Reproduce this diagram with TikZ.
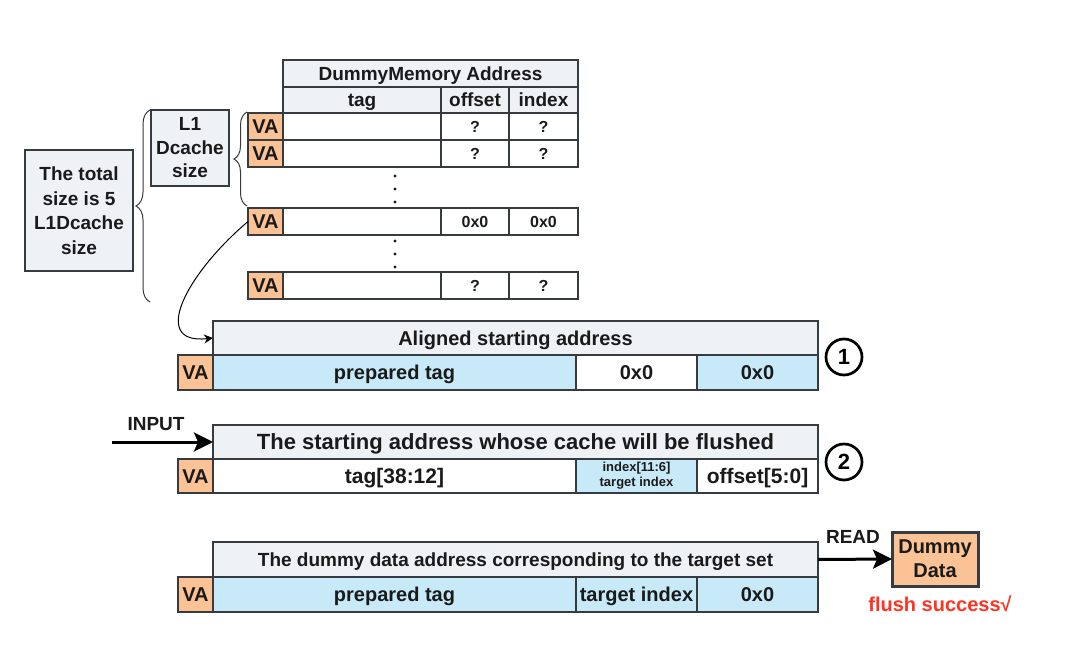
\documentclass[tikz,border=0pt]{standalone}
\usepackage{fontspec}
\setmainfont{Liberation Sans}
\usetikzlibrary{arrows.meta,decorations.pathreplacing}
\definecolor{linec}{HTML}{353B3F}
\definecolor{hdrfill}{HTML}{EEF2F4}
\definecolor{bluefill}{HTML}{C8EAF8}
\definecolor{vafill}{HTML}{FBC395}
\definecolor{redtxt}{HTML}{FF3322}
\definecolor{txt}{HTML}{1A1A1A}
\newcommand\fsz[2]{\fontsize{#1}{#2}\selectfont\bfseries}
\newcommand\cellbox[7]{\node[#6, minimum width={(#4-#2)*1pt}, minimum height={(#5-#3)*1pt}] (#1) at (#2,#3) {#7};}
\begin{document}
\begin{tikzpicture}[x=1pt,y=-1pt,
  cellb/.style={draw=linec, line width=1.3pt, inner sep=0pt, outer sep=0pt, anchor=north west, align=center, text=txt, font=\fsz{19}{23}},
  sl/.style={text height=#1, text depth=0pt},
  hdrcell/.style={cellb, fill=hdrfill},
  whitecell/.style={cellb, fill=white},
  bluecell/.style={cellb, fill=bluefill},
  vacell/.style={cellb, fill=vafill, font=\fsz{20}{22}},
  vas/.style={vacell, sl=14.3pt},
  brc/.style={draw=linec, line width=1pt, decorate},
  thinarrow/.style={draw=black, line width=1pt, -{Stealth[length=9pt,width=9pt]}},
  thickarrow/.style={draw=black, line width=3pt, -{Stealth[length=19pt,width=19pt,inset=4pt]}},
  numcirc/.style={circle, draw=black, line width=2.7pt, minimum size=36pt, inner sep=0pt, font=\fsz{22}{24}},
  lbl/.style={font=\fsz{19}{22}, text=txt}
]
\useasboundingbox (0,0) rectangle (1066,666);
\fill[white] (0,0) rectangle (1066,666);

% ---- top table ----
\cellbox{dmhdr}{283}{60}{578}{87}{hdrcell, sl=13.6pt}{DummyMemory Address}
\cellbox{ctag}{283}{87}{441}{113}{hdrcell, sl=13.6pt}{tag}
\cellbox{coff}{441}{87}{509}{113}{hdrcell, sl=13.6pt}{offset}
\cellbox{cidx}{509}{87}{578}{113}{hdrcell, sl=13.6pt}{index}

\cellbox{va1}{248}{113}{283}{140}{vas}{VA}
\cellbox{t1}{283}{113}{441}{140}{whitecell}{}
\cellbox{o1}{441}{113}{509}{140}{whitecell, font=\fsz{16}{18}, sl=11.5pt}{?}
\cellbox{i1}{509}{113}{578}{140}{whitecell, font=\fsz{16}{18}, sl=11.5pt}{?}

\cellbox{va2}{248}{140}{283}{167}{vas}{VA}
\cellbox{t2}{283}{140}{441}{167}{whitecell}{}
\cellbox{o2}{441}{140}{509}{167}{whitecell, font=\fsz{16}{18}, sl=11.5pt}{?}
\cellbox{i2}{509}{140}{578}{167}{whitecell, font=\fsz{16}{18}, sl=11.5pt}{?}

\cellbox{va3}{248}{208}{283}{235}{vas}{VA}
\cellbox{t3}{283}{208}{441}{235}{whitecell}{}
\cellbox{o3}{441}{208}{509}{235}{whitecell, font=\fsz{16}{18}, sl=11.5pt}{0x0}
\cellbox{i3}{509}{208}{578}{235}{whitecell, font=\fsz{16}{18}, sl=11.5pt}{0x0}

\cellbox{va4}{248}{272}{283}{299}{vas}{VA}
\cellbox{t4}{283}{272}{441}{299}{whitecell}{}
\cellbox{o4}{441}{272}{509}{299}{whitecell, font=\fsz{16}{18}, sl=11.5pt}{?}
\cellbox{i4}{509}{272}{578}{299}{whitecell, font=\fsz{16}{18}, sl=11.5pt}{?}

% vertical dots
\foreach \yy in {176,189,202,241,254,267}{\fill[txt] (395,\yy) circle (1.7);}

% ---- size boxes and braces ----
\cellbox{l1box}{151}{110}{229}{186}{hdrcell, font=\fsz{19}{23.5}}{L1\\Dcache\\size}
\cellbox{totbox}{25}{150}{133}{271}{hdrcell, font=\fsz{19}{24.5}}{The total\\size is 5\\L1Dcache\\size}
\coordinate (sbA) at (247,206);
\coordinate (sbB) at (247,112);
\coordinate (bbA) at (150,302);
\coordinate (bbB) at (150,110);
\draw[brc, decoration={brace, amplitude=13pt}] (sbA) -- (sbB);
\draw[brc, decoration={brace, amplitude=14pt}] (bbA) -- (bbB);

% ---- section 1 ----
\cellbox{hdr1}{213}{321}{818}{355}{hdrcell, font=\fsz{20}{22}, sl=14.3pt}{Aligned starting address}
\cellbox{va5}{178}{355}{213}{390}{vas}{VA}
\cellbox{pt1}{213}{355}{576}{390}{bluecell, font=\fsz{20}{22}, sl=14.3pt}{prepared tag}
\cellbox{za}{576}{355}{697}{390}{whitecell, font=\fsz{20}{22}, sl=14.3pt}{0x0}
\cellbox{zb}{697}{355}{818}{390}{bluecell, font=\fsz{20}{22}, sl=14.3pt}{0x0}
\node[numcirc] (c1) at (844,357) {1};

\draw[thinarrow] (va3.west) .. controls (185,275) and (150,345) .. (hdr1.west);

% ---- section 2 ----
\cellbox{hdr2}{213}{425}{818}{459}{hdrcell, font=\fsz{22}{24}, sl=15.75pt}{The starting address whose cache will be flushed}
\cellbox{va6}{178}{459}{213}{493}{vas}{VA}
\cellbox{tg}{213}{459}{576}{493}{whitecell, font=\fsz{21}{23}, sl=15pt}{tag[38:12]}
\cellbox{ix}{576}{459}{697}{493}{bluecell, font=\fsz{13}{15}}{index[11:6]\\target index}
\cellbox{of}{697}{459}{818}{493}{whitecell, font=\fsz{21}{23}, sl=15pt}{offset[5:0]}
\node[numcirc] (c2) at (844,462) {2};

\coordinate (inp) at (112,442);
\draw[thickarrow] (inp) -- (hdr2.west);
\node[lbl] (inlbl) at (156,424) {INPUT};

% ---- section 3 ----
\cellbox{hdr3}{213}{542}{818}{577}{hdrcell, font=\fsz{19}{21}, sl=13.6pt}{The dummy data address corresponding to the target set}
\cellbox{va7}{178}{577}{213}{612}{vas}{VA}
\cellbox{pt3}{213}{577}{576}{612}{bluecell, font=\fsz{20}{22}, sl=14.3pt}{prepared tag}
\cellbox{ti}{576}{577}{697}{612}{bluecell, font=\fsz{20}{22}, sl=14.3pt}{target index}
\cellbox{zc}{697}{577}{818}{612}{bluecell, font=\fsz{20}{22}, sl=14.3pt}{0x0}

\cellbox{dummy}{892}{532}{978}{586}{vacell, line width=3pt, font=\fsz{20}{24}}{Dummy\\Data}
\draw[thickarrow] (hdr3.east) -- (dummy.west);
\node[lbl] (readlbl) at (853,537) {READ};
\node[font=\fsz{20}{22}, text=redtxt] (flush) at (940,604) {flush success√};
\end{tikzpicture}
\end{document}
